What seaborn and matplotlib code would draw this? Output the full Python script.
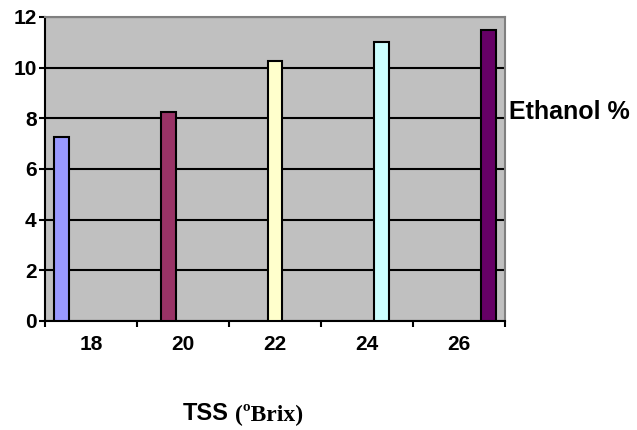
import matplotlib
matplotlib.use("Agg")
import matplotlib.pyplot as plt
import seaborn as sns
import pandas as pd

# data
tss = ["18", "20", "22", "24", "26"]
series = ["S1", "S2", "S3", "S4", "S5"]
ethanol = [7.25, 8.25, 10.25, 11.0, 11.5]
colors = ["#9999FF", "#993366", "#FFFFCC", "#CCFFFF", "#660066"]

df = pd.DataFrame({"TSS": tss, "Series": series, "Ethanol": ethanol})

sns.set_style("white")
plt.rcParams["font.family"] = ["Liberation Sans", "DejaVu Sans"]
plt.rcParams["text.color"] = "black"
plt.rcParams["xtick.color"] = "black"
plt.rcParams["ytick.color"] = "black"

fig = plt.figure(figsize=(6.37, 4.30), dpi=100)
ax = fig.add_axes([0.0706, 0.2535, 0.7222, 0.707])
ax.set_facecolor("#C0C0C0")

sns.barplot(data=df, x="TSS", y="Ethanol", hue="Series", palette=colors,
            saturation=1, dodge=True, legend=False, edgecolor="black",
            linewidth=1.5, ax=ax, zorder=3)

ax.set_ylim(0, 12)
ax.set_xlim(-0.5, 4.5)
ax.set_yticks(range(0, 13, 2))
ax.set_axisbelow(True)
ax.yaxis.grid(True, color="black", linewidth=1.5)
ax.xaxis.grid(False)

# category boundaries get the tick marks, labels sit in the middle
ax.set_xticks([i - 0.5 for i in range(len(tss) + 1)], minor=True)
ax.tick_params(axis="x", which="major", bottom=True, length=0, pad=10, labelsize=15)
ax.tick_params(axis="x", which="minor", bottom=True, length=4, width=1.5, color="black", direction="out")
ax.tick_params(axis="y", left=True, length=4, width=1.5, color="black", direction="out", pad=2, labelsize=15)
for lab in ax.get_xticklabels() + ax.get_yticklabels():
    lab.set_fontweight("bold")

for s in ["left", "bottom"]:
    ax.spines[s].set_color("black")
    ax.spines[s].set_linewidth(1.5)
for s in ["top", "right"]:
    ax.spines[s].set_color("#808080")
    ax.spines[s].set_linewidth(1.5)

ax.set_xlabel("")
ax.set_ylabel("")

fig.text(0.799, 0.74, "Ethanol %", fontsize=18, fontweight="bold", va="center", ha="left")
fig.text(0.287, 0.023, "TSS", fontsize=17, fontweight="bold", va="baseline", ha="left")
fig.text(0.369, 0.023, "(ºBrix)", fontsize=17, fontweight="bold", va="baseline", ha="left",
         family=["Liberation Serif", "DejaVu Serif"])

fig.savefig("out.png", dpi=100)
